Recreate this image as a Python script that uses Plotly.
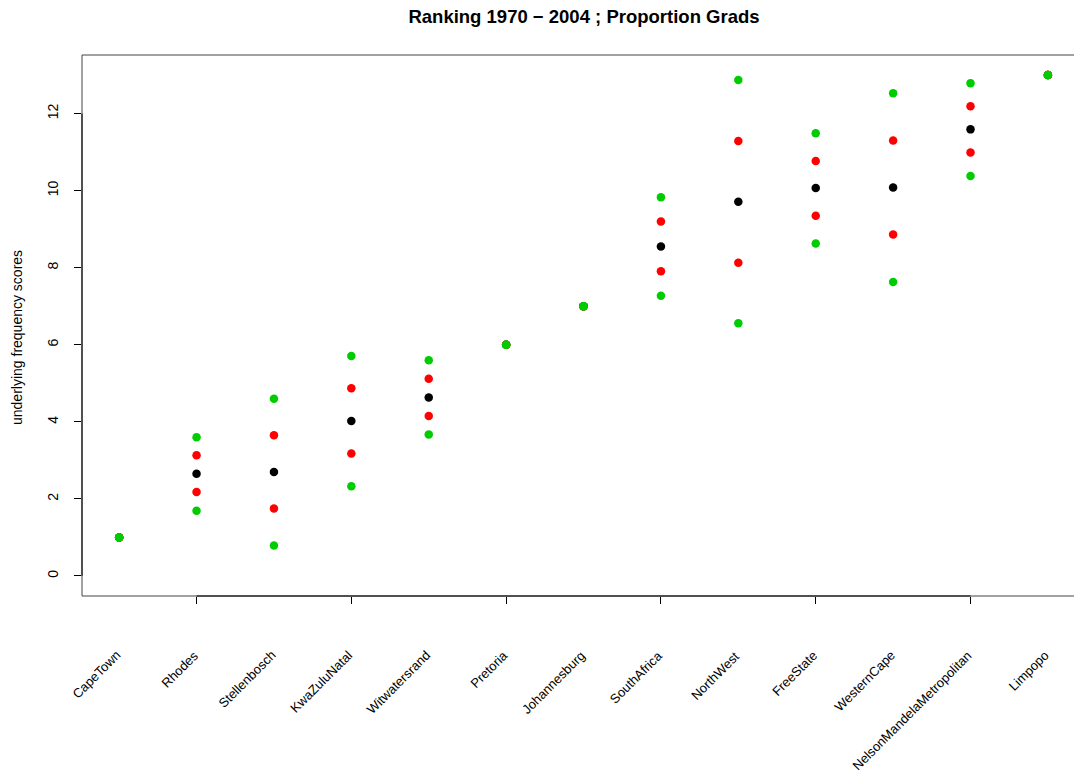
import plotly.graph_objects as go

categories = ["CapeTown", "Rhodes", "Stellenbosch", "KwaZuluNatal", "Witwatersrand",
              "Pretoria", "Johannesburg", "SouthAfrica", "NorthWest", "FreeState",
              "WesternCape", "NelsonMandelaMetropolitan", "Limpopo"]
median = [1, 2.65, 2.70, 4.02, 4.63, 6, 7, 8.55, 9.71, 10.07, 10.08, 11.59, 13]
red_upper = [1, 3.13, 3.65, 4.87, 5.12, 6, 7, 9.20, 11.29, 10.77, 11.30, 12.19, 13]
red_lower = [1, 2.18, 1.75, 3.18, 4.15, 6, 7, 7.91, 8.13, 9.35, 8.86, 10.99, 13]
green_upper = [1, 3.60, 4.60, 5.71, 5.60, 6, 7, 9.83, 12.87, 11.49, 12.53, 12.79, 13]
green_lower = [1, 1.69, 0.79, 2.33, 3.67, 6, 7, 7.27, 6.56, 8.63, 7.63, 10.38, 13]
y_ticks = [0, 2, 4, 6, 8, 10, 12]
x_ticks = [2, 4, 6, 8, 10, 12]

xs = list(range(1, len(categories) + 1))
W, H = 1074, 776
L, T = 82, 55
B = H - 596
plot_w = W - L
plot_h = H - T - B
xr = [0.52, 13.337]
yr = [-0.52, 13.52]

fig = go.Figure()
mk = dict(size=8.5, line=dict(width=0))
fig.add_trace(go.Scatter(x=xs, y=median, mode="markers", marker=dict(color="black", **mk), showlegend=False))
for vals in (red_upper, red_lower):
    fig.add_trace(go.Scatter(x=xs, y=vals, mode="markers", marker=dict(color="#FF0000", **mk), showlegend=False))
for vals in (green_upper, green_lower):
    fig.add_trace(go.Scatter(x=xs, y=vals, mode="markers", marker=dict(color="#00CD00", **mk), showlegend=False))

font_fam = "Liberation Sans, Arial, Helvetica, sans-serif"

# x labels rotated 45
px_per_x = plot_w / (xr[1] - xr[0])
for x, lab in zip(xs, categories):
    fig.add_annotation(x=x + 7 / px_per_x, y=(596 - 645) / plot_h, xref="x", yref="paper",
                       text=lab, textangle=-45, showarrow=False, xanchor="right", yanchor="top",
                       font=dict(size=13, color="black", family=font_fam))

# y title
fig.add_annotation(x=(17 - L) / plot_w, y=((596 - 338) / plot_h),
                   xref="paper", yref="paper", text="underlying frequency scores", textangle=-90,
                   showarrow=False, xanchor="center", yanchor="middle",
                   font=dict(size=14, color="black", family=font_fam))

# box lines (left, top, bottom) - right side beyond view
line_c = "#444444"
fig.add_shape(type="line", xref="paper", yref="paper", x0=0, x1=0, y0=0, y1=1, line=dict(color=line_c, width=1))
fig.add_shape(type="line", xref="paper", yref="paper", x0=0, x1=1.01, y0=1, y1=1, line=dict(color=line_c, width=1))
fig.add_shape(type="line", xref="paper", yref="paper", x0=0, x1=1.01, y0=0, y1=0, line=dict(color=line_c, width=1))
# axis lines
fig.add_shape(type="line", xref="x", yref="paper", x0=x_ticks[0], x1=x_ticks[-1], y0=0, y1=0,
              line=dict(color="black", width=1))
fig.add_shape(type="line", xref="paper", yref="y", x0=0, x1=0, y0=y_ticks[0], y1=y_ticks[-1],
              line=dict(color="black", width=1))

fig.update_layout(
    width=W, height=H,
    margin=dict(l=L, r=0, t=T, b=B),
    paper_bgcolor="white", plot_bgcolor="white",
    font=dict(family=font_fam, color="black", size=13),
    title=dict(text="<b>Ranking 1970 \u2212 2004 ; Proportion Grads</b>", x=584 / W, xanchor="center",
               xref="container", y=1 - 17 / H, yanchor="middle", yref="container",
               font=dict(size=18.5, family=font_fam, color="black")),
    xaxis=dict(range=xr, showgrid=False, zeroline=False, showline=False,
               tickvals=x_ticks, ticks="outside", ticklen=7, tickcolor="black", tickwidth=1,
               showticklabels=False),
    yaxis=dict(range=yr, showgrid=False, zeroline=False, showline=False,
               tickvals=y_ticks, ticktext=[str(v) for v in y_ticks],
               ticks="outside", ticklen=7, tickcolor="black", tickwidth=1,
               tickangle=-90, tickfont=dict(size=14, family=font_fam), ticklabelstandoff=10),
)

fig.write_html("out.html", config={"displayModeBar": False},
               post_script="document.body.style.margin='0';document.body.style.overflow='hidden';")
